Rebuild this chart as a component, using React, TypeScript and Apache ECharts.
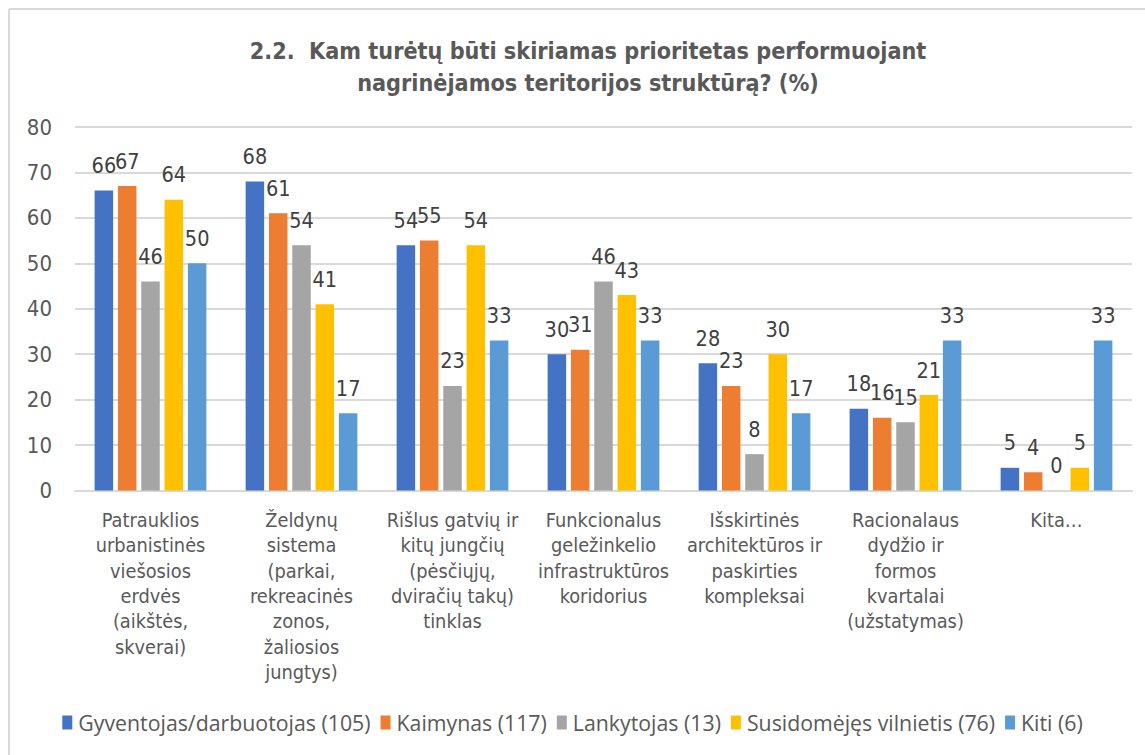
import React, { useEffect, useRef } from "react";
import * as echarts from "echarts";

const titleLines = [
  "2.2.  Kam turėtų būti skiriamas prioritetas performuojant",
  "nagrinėjamos teritorijos struktūrą? (%)",
];

const categories = [
  "Patrauklios\nurbanistinės\nviešosios\nerdvės\n(aikštės,\nskverai)",
  "Želdynų\nsistema\n(parkai,\nrekreacinės\nzonos,\nžaliosios\njungtys)",
  "Rišlus gatvių ir\nkitų jungčių\n(pėsčiųjų,\ndviračių takų)\ntinklas",
  "Funkcionalus\ngeležinkelio\ninfrastruktūros\nkoridorius",
  "Išskirtinės\narchitektūros ir\npaskirties\nkompleksai",
  "Racionalaus\ndydžio ir\nformos\nkvartalai\n(užstatymas)",
  "Kita…",
];

const seriesNames = [
  "Gyventojas/darbuotojas (105)",
  "Kaimynas (117)",
  "Lankytojas (13)",
  "Susidomėjęs vilnietis (76)",
  "Kiti (6)",
];

const gyventojas = [66, 68, 54, 30, 28, 18, 5];
const kaimynas = [67, 61, 55, 31, 23, 16, 4];
const lankytojas = [46, 54, 23, 46, 8, 15, 0];
const vilnietis = [64, 41, 54, 43, 30, 21, 5];
const kiti = [50, 17, 33, 33, 17, 33, 33];

const seriesValues = [gyventojas, kaimynas, lankytojas, vilnietis, kiti];
const colors = ["#4472C4", "#ED7D31", "#A5A5A5", "#FFC000", "#5B9BD5"];

const yTicks = { min: 0, max: 80, interval: 10 };

const dinFont = "'DejaVu Sans Condensed', 'DejaVu Sans', sans-serif";

export default function App() {
  const ref = useRef<HTMLDivElement>(null);
  useEffect(() => {
    if (!ref.current) return;
    const chart = echarts.init(ref.current, undefined, { renderer: "svg" });
    chart.setOption({
      animation: false,
      backgroundColor: "#ffffff",
      color: colors,
      title: {
        text: titleLines.join("\n"),
        left: 583,
        textAlign: "center",
        top: 29,
        textStyle: {
          fontFamily: dinFont,
          fontSize: 23.2,
          fontWeight: "bold",
          color: "#595959",
          lineHeight: 32,
        },
      },
      legend: {
        bottom: 17,
        left: "center",
        itemWidth: 10,
        itemHeight: 14,
        itemGap: 10,
        icon: "rect",
        textStyle: {
          fontFamily: "'Open Sans', sans-serif",
          fontSize: 21.3,
          color: "#595959",
          padding: [0, 0, 0, 1],
        },
        data: seriesNames,
      },
      grid: { left: 75, right: 13, top: 127, bottom: 264.5, containLabel: false },
      xAxis: {
        type: "category",
        data: categories,
        axisLine: { lineStyle: { color: "#d9d9d9", width: 2 } },
        axisTick: { show: false },
        axisLabel: {
          interval: 0,
          margin: 17,
          fontFamily: dinFont,
          fontSize: 19.8,
          lineHeight: 25.4,
          color: "#595959",
          align: "center",
        },
      },
      yAxis: {
        type: "value",
        min: yTicks.min,
        max: yTicks.max,
        interval: yTicks.interval,
        axisLine: { show: false },
        axisTick: { show: false },
        splitLine: { lineStyle: { color: "#d9d9d9", width: 2 } },
        axisLabel: {
          margin: 23,
          fontFamily: dinFont,
          fontSize: 22,
          color: "#595959",
        },
      },
      graphic: [
        {
          type: "line",
          shape: { x1: 9, y1: 9, x2: 1145, y2: 9 },
          style: { stroke: "#d9d9d9", lineWidth: 2 },
        },
        {
          type: "line",
          shape: { x1: 9, y1: 9, x2: 9, y2: 755 },
          style: { stroke: "#d9d9d9", lineWidth: 2 },
        },
      ],
      series: seriesNames.map((name, i) => ({
        name,
        type: "bar",
        data: seriesValues[i],
        barGap: "26%",
        barCategoryGap: "26%",
        itemStyle: { color: colors[i] },
        label: {
          show: true,
          position: "top",
          distance: 14,
          fontFamily: dinFont,
          fontSize: 21.5,
          fontWeight: "normal",
          color: "#404040",
        },
      })),
    });
    return () => chart.dispose();
  }, []);
  return (
    <div style={{ position: "fixed", left: 0, top: 0, width: 1145, height: 755 }}>
      <div ref={ref} style={{ width: 1145, height: 755 }} />
    </div>
  );
}
